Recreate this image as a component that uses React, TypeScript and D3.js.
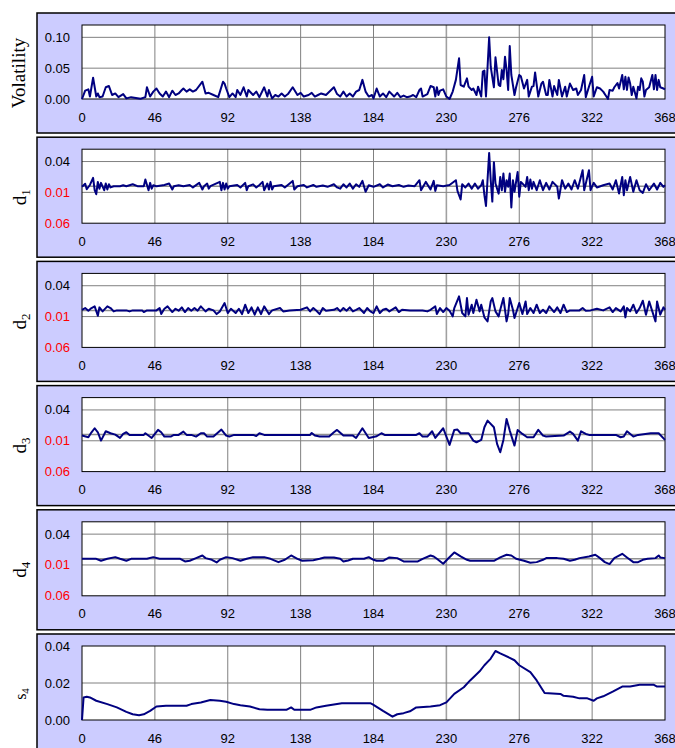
import React from "react";
import * as d3 from "d3";

// day index along the x axis (0..368), one tick every 46 days
const xTicks = [0, 46, 92, 138, 184, 230, 276, 322, 368];

const volTicks = [0, 0.05, 0.1];
const detailTicks = [-0.06, -0.01, 0.04];
const smoothTicks = [0, 0.02, 0.04];

// [day, value]
const volatility: [number, number][] = [
  [0, 0], [2, 0.0135], [4, 0.0157], [5, 0.004], [7, 0.0346], [9, 0.004], [10, 0.009], [11, 0.003],
  [13, 0.004], [15, 0.019], [17, 0.021], [19, 0.0065], [21, 0.009], [23, 0.003], [26, 0.008], [28, 0.001],
  [31, 0.003], [37, 0.0005], [40, 0.003], [41, 0.019], [43, 0.004], [45, 0.012], [47, 0.017], [49, 0.009],
  [51, 0.004], [53, 0.012], [55, 0.003], [57, 0.0135], [59, 0.0065], [61, 0.009], [63, 0.0146], [64, 0.017],
  [66, 0.012], [68, 0.0157], [70, 0.012], [72, 0.0146], [76, 0.028], [78, 0.009], [80, 0.01], [83, 0.0065],
  [86, 0.003], [89, 0.028], [90, 0.025], [91, 0.017], [93, 0.003], [95, 0.009], [97, 0.003], [98, 0.0146],
  [100, 0.0065], [102, 0.019], [104, 0.004], [105, 0.0146], [108, 0.0065], [110, 0.012], [112, 0.003],
  [115, 0.019], [117, 0.004], [118, 0.0146], [120, 0.001], [122, 0.0065], [124, 0.004], [126, 0.009],
  [128, 0.004], [130, 0.008], [133, 0.019], [136, 0.0065], [138, 0.01], [140, 0.004], [143, 0.0065],
  [145, 0.01], [147, 0.004], [149, 0.0065], [151, 0.009], [154, 0.0065], [159, 0.019], [161, 0.008],
  [163, 0.004], [165, 0.012], [167, 0.004], [169, 0.009], [171, 0.004], [173, 0.012], [175, 0.0146],
  [177, 0.031], [179, 0.012], [181, 0.004], [183, 0.0065], [184, 0.001], [186, 0.017], [188, 0.004],
  [190, 0.009], [192, 0.003], [194, 0.012], [197, 0.004], [199, 0.01], [201, 0.003], [203, 0.0055],
  [205, 0.003], [207, 0.004], [209, 0.0065], [211, 0.003], [213, 0.0146], [214, 0.017], [215, 0.004],
  [218, 0.008], [220, 0.021], [222, 0.019], [223, 0.004], [224, 0.019], [225, 0.0065], [226, 0.0135],
  [228, 0.0157], [230, 0.004], [232, 0], [234, 0.012], [236, 0.031], [238, 0.066], [239, 0.0227],
  [241, 0.02], [243, 0.0335], [244, 0.02], [246, 0.0146], [247, 0.017], [249, 0.0065], [250, 0.02],
  [252, 0.004], [253, 0.0443], [254, 0.046], [255, 0.004], [257, 0.1], [258, 0.052], [260, 0.019],
  [261, 0.0676], [263, 0.0227], [264, 0.021], [265, 0.047], [266, 0.032], [267, 0.0686], [268, 0.047],
  [269, 0.0146], [270, 0.086], [271, 0.039], [273, 0.0065], [274, 0.019], [276, 0.039], [277, 0.037],
  [279, 0.017], [281, 0.031], [282, 0.004], [284, 0.02], [285, 0.021], [286, 0.043], [288, 0.004],
  [290, 0.025], [291, 0.028], [293, 0.0065], [294, 0.0065], [295, 0.031], [297, 0.004], [298, 0.021],
  [300, 0.0065], [301, 0.031], [303, 0.004], [305, 0.02], [306, 0.004], [308, 0.025], [310, 0.0146],
  [312, 0.017], [313, 0.0065], [315, 0.0146], [317, 0.039], [318, 0.003], [320, 0.02], [322, 0.036],
  [323, 0.004], [325, 0.019], [327, 0.017], [329, 0.012], [331, 0.004], [332, 0], [333, 0.0146],
  [335, 0.0135], [336, 0.019], [338, 0.026], [339, 0.017], [341, 0.039], [342, 0.0157], [343, 0.036],
  [344, 0.0146], [345, 0.035], [346, 0.025], [347, 0.0065], [348, 0.02], [350, 0.001], [351, 0.02],
  [352, 0.0146], [353, 0.0335], [354, 0.028], [355, 0.004], [356, 0.0146], [358, 0.019], [360, 0.039],
  [361, 0.0157], [362, 0.039], [363, 0.0146], [364, 0.031], [365, 0.019], [367, 0.017], [368, 0.0157],
];

const d1: [number, number][] = [
  [0, -0.001], [2, 0.004], [3, -0.005], [5, 0.002], [7, 0.0135], [8, -0.0065], [9, -0.013], [10, 0.007],
  [11, -0.004], [12, 0.0054], [14, -0.0065], [15, 0.0043], [16, -0.0054], [17, 0.0032], [18, -0.002],
  [20, 0], [24, 0], [26, 0.0016], [28, 0], [32, 0.0032], [35, 0], [39, 0], [40, 0.011], [42, -0.0065],
  [43, 0.0054], [44, -0.004], [45, 0.0016], [47, 0], [52, 0.002], [55, 0.0043], [57, -0.0054], [58, 0],
  [61, 0.0016], [64, 0], [68, 0.002], [70, -0.002], [74, 0.0054], [76, -0.0054], [77, 0], [79, 0.0043],
  [80, -0.004], [81, 0], [87, 0.007], [88, -0.0065], [89, 0.0054], [90, -0.0054], [91, 0.0043],
  [92, -0.004], [93, 0], [98, 0.002], [100, -0.002], [103, 0.0054], [104, -0.0065], [105, 0],
  [108, 0.003], [110, -0.002], [112, 0.002], [114, 0.007], [115, -0.0065], [117, 0.0043], [118, -0.0054],
  [119, 0.007], [120, -0.0054], [121, 0], [126, 0.002], [128, -0.002], [133, 0.0086], [134, -0.0054],
  [136, 0], [140, 0.002], [142, -0.002], [146, 0.002], [148, -0.001], [152, 0.001], [155, -0.001],
  [159, 0.0032], [161, -0.002], [163, -0.004], [165, 0.0032], [167, -0.002], [169, 0.0043], [171, -0.004],
  [173, 0.0032], [175, -0.001], [177, 0.0086], [179, -0.009], [181, 0.0016], [184, -0.001], [188, 0.0032],
  [190, -0.002], [193, 0.0027], [196, 0], [200, 0.002], [203, -0.001], [206, 0.001], [210, 0],
  [213, 0.0097], [214, -0.0065], [217, 0.007], [220, -0.0054], [222, 0.0086], [223, -0.0076],
  [224, 0.0016], [228, 0], [232, 0.002], [236, 0.0097], [237, -0.0076], [239, -0.0216], [240, 0.0032],
  [242, -0.002], [244, 0.0043], [246, -0.004], [248, 0.0043], [250, -0.004], [252, 0.0016], [253, 0.0097],
  [254, -0.0146], [255, -0.032], [257, 0.054], [258, 0.0097], [259, -0.025], [260, 0.039], [261, 0.0043],
  [263, -0.012], [264, 0.015], [265, -0.0065], [266, 0.0205], [267, -0.009], [268, 0.0097], [269, -0.001],
  [270, 0.0205], [271, -0.0346], [272, 0.0097], [273, -0.009], [275, 0.023], [276, -0.017], [277, 0.007],
  [280, -0.001], [281, 0.015], [282, -0.0065], [283, 0.0108], [284, -0.004], [285, 0.007], [287, -0.0065],
  [289, 0.0097], [291, -0.0065], [293, 0.0054], [295, -0.0054], [297, 0.007], [300, -0.001], [301, -0.02],
  [303, 0.0097], [305, -0.004], [307, 0.0043], [309, -0.0054], [311, 0.0097], [313, -0.004], [316, 0.026],
  [317, -0.0065], [320, 0.026], [321, -0.0065], [323, 0.0054], [325, -0.002], [329, 0.0016], [333, 0.0043],
  [335, -0.0054], [337, 0.0097], [339, -0.012], [341, 0.015], [342, -0.0146], [343, 0.0097], [344, -0.0065],
  [346, 0.015], [348, -0.009], [350, 0.0097], [352, -0.0065], [354, -0.0108], [356, 0.0032], [358, -0.0065],
  [361, 0.0043], [363, -0.0054], [365, 0.0054], [367, -0.001], [368, 0.0016],
];

const d2: [number, number][] = [
  [0, 0.001], [2, 0.0038], [4, -0.0005], [6, 0.0038], [8, 0.0065], [10, -0.0086], [11, 0.0049],
  [13, -0.0016], [16, 0.0065], [18, 0.0038], [20, -0.0016], [22, 0], [28, 0], [30, -0.0016], [32, 0],
  [38, 0], [39, -0.0027], [41, 0], [47, 0], [49, 0.0038], [50, -0.006], [52, 0.0027], [54, 0.0065],
  [57, -0.0027], [59, 0.0027], [61, -0.0005], [63, 0.0049], [65, -0.0027], [67, 0.0038], [69, -0.0005],
  [71, 0.0038], [73, -0.0005], [75, 0.0065], [78, -0.0016], [80, 0.0027], [83, 0], [85, -0.006],
  [87, -0.0016], [90, 0.012], [92, -0.0043], [94, 0.0027], [97, -0.0043], [99, 0.0027], [101, -0.006],
  [103, 0.0092], [105, -0.0043], [107, 0.0049], [109, -0.007], [111, 0.0049], [113, -0.006], [115, 0.0065],
  [118, -0.006], [120, 0], [125, 0.0038], [127, -0.0016], [131, 0], [138, 0.001], [142, 0.0049],
  [144, -0.0016], [146, 0.0038], [148, -0.0005], [150, -0.006], [152, 0.0038], [154, -0.0005], [159, 0.001],
  [161, 0.0038], [163, -0.0016], [165, 0.0038], [167, -0.0005], [169, 0.0049], [171, -0.0016], [173, 0.001],
  [175, 0.0038], [178, -0.0043], [180, 0.0038], [182, -0.0016], [184, -0.0043], [186, 0.0065],
  [188, -0.0043], [190, 0.001], [192, 0.0027], [194, -0.0016], [198, 0.0049], [200, -0.0027], [202, 0.001],
  [207, 0], [215, 0], [218, -0.0016], [220, 0.001], [223, 0.0065], [224, -0.006], [226, 0.0038],
  [228, -0.0027], [230, 0.0038], [232, -0.0005], [234, -0.0097], [235, 0.0038], [238, 0.0227], [239, 0.0092],
  [240, -0.0043], [242, -0.0097], [243, 0.02], [244, -0.007], [246, 0.0092], [247, -0.0043], [249, 0.0173],
  [251, -0.0016], [252, 0.0092], [254, -0.0113], [256, -0.0178], [258, 0.0146], [259, 0.02], [261, -0.0016],
  [263, -0.0097], [264, 0.001], [266, 0.02], [268, -0.0178], [269, -0.006], [270, 0.02], [272, 0.001],
  [273, -0.0124], [275, 0.0038], [276, 0.012], [278, -0.006], [280, 0.0146], [281, -0.006], [283, 0.0038],
  [285, -0.0043], [287, 0.0092], [289, -0.0043], [291, 0.001], [293, -0.0043], [295, 0.0065], [298, -0.0027],
  [300, 0.0049], [302, -0.0043], [304, 0.0092], [306, -0.0027], [308, 0], [314, 0], [316, 0.0038],
  [318, -0.0005], [321, 0], [325, 0.0027], [329, 0], [333, 0.0049], [335, -0.0027], [337, 0.0038],
  [340, -0.0016], [342, 0.0065], [343, -0.0113], [344, 0.0038], [346, -0.0016], [348, 0.0092], [350, -0.0043],
  [352, 0.0038], [354, 0.0157], [356, -0.007], [358, 0.0146], [360, -0.0016], [362, -0.0178], [363, 0.0146],
  [365, -0.007], [367, 0.0049], [368, 0.001],
];

const d3s: [number, number][] = [
  [0, -0.0016], [4, -0.0043], [6, 0.0038], [8, 0.0103], [10, 0.0038], [12, -0.0097], [15, 0.0054],
  [18, 0.0022], [21, 0], [24, -0.0054], [26, 0.0011], [28, 0.0038], [30, -0.0005], [39, -0.0005],
  [40, 0.0022], [44, -0.0054], [48, 0.0076], [50, 0.0038], [52, -0.0032], [56, -0.0032], [58, -0.0005],
  [61, -0.0005], [64, 0.0049], [66, -0.0005], [69, -0.0005], [72, -0.0032], [75, 0.0022], [77, 0.0022],
  [79, -0.0032], [83, -0.0032], [88, 0.0081], [91, -0.0016], [93, -0.0032], [96, -0.0005], [108, -0.0005],
  [110, -0.0022], [112, 0.0022], [115, -0.0005], [144, -0.0005], [145, 0.0027], [147, -0.0016],
  [150, -0.0032], [156, -0.0032], [159, 0.0038], [161, 0.0076], [165, -0.0016], [171, -0.0016],
  [173, -0.0054], [177, 0.0103], [181, -0.0054], [186, -0.0027], [189, 0.0022], [191, -0.0005],
  [211, -0.0005], [213, 0.0022], [215, -0.0032], [218, -0.0032], [221, 0.0054], [223, -0.0054],
  [228, 0.0103], [232, -0.0167], [235, 0.0076], [237, 0.0081], [239, 0.0022], [244, 0.0022], [247, -0.0097],
  [249, -0.0124], [252, -0.0086], [254, 0.0119], [256, 0.0227], [260, 0.0119], [262, -0.0151],
  [264, -0.0286], [266, -0.0086], [268, 0.0254], [270, 0.0065], [273, -0.0178], [275, 0.0076],
  [278, 0.0011], [281, -0.0043], [285, -0.0043], [288, 0.0076], [291, -0.0016], [293, -0.0032],
  [304, -0.0016], [308, 0.0049], [310, 0.0011], [313, -0.0097], [315, 0.0054], [318, 0.0011],
  [320, -0.0005], [337, -0.0005], [340, -0.0043], [342, -0.0032], [344, 0.0054], [348, -0.0032],
  [351, -0.0005], [359, 0.0022], [364, 0.0022], [368, -0.0086],
];

const d4: [number, number][] = [
  [0, 0], [9, 0], [12, -0.0032], [16, 0], [21, 0.0027], [24, 0], [28, -0.0032], [31, 0], [41, 0],
  [45, 0.0027], [49, 0], [62, 0], [65, -0.0043], [68, -0.0032], [72, 0.0011], [76, 0.0054], [78, 0.0011],
  [82, -0.0016], [85, -0.0059], [87, -0.0016], [91, 0.0027], [95, 0.0011], [100, -0.0032], [104, 0],
  [108, 0.0027], [115, 0.0027], [119, 0], [124, -0.0054], [128, -0.0016], [132, 0.0054], [136, 0],
  [139, -0.0032], [146, -0.0022], [150, 0], [153, 0.0022], [159, 0.0022], [163, 0], [165, -0.0043],
  [168, -0.0027], [171, 0], [178, 0], [181, 0.0027], [184, -0.0016], [186, -0.0032], [190, -0.0032],
  [194, 0.0022], [199, 0.0011], [203, -0.0043], [212, -0.0043], [215, 0], [220, 0.0054], [222, 0.0038],
  [224, 0], [228, -0.0081], [231, 0], [235, 0.0103], [239, 0.0038], [243, -0.0016], [245, -0.0032],
  [260, -0.0032], [264, 0.0022], [268, 0.0065], [271, 0.0054], [274, 0], [279, -0.0032], [283, -0.0065],
  [287, -0.0054], [291, -0.0016], [293, 0.0011], [300, 0.0011], [304, 0], [308, -0.0032], [311, -0.0016],
  [314, 0.0011], [320, 0.0038], [324, 0.0065], [327, 0.0011], [330, -0.0054], [333, -0.0086], [336, 0.0011],
  [341, 0.0081], [344, 0.0022], [348, -0.0054], [351, -0.0054], [354, -0.0016], [357, 0], [362, 0.0011],
  [364, 0.0054], [365, 0.0022], [368, 0.0011],
];

const s4: [number, number][] = [
  [0, 0], [1, 0.0122], [3, 0.0126], [5, 0.0122], [9, 0.0104], [16, 0.0086], [22, 0.0068], [28, 0.0044],
  [32, 0.0031], [36, 0.0026], [39, 0.0031], [43, 0.0049], [47, 0.0073], [53, 0.0077], [66, 0.0077],
  [69, 0.0086], [75, 0.0095], [81, 0.0108], [87, 0.0104], [91, 0.0099], [96, 0.0086], [100, 0.008],
  [106, 0.0073], [112, 0.0058], [117, 0.0055], [129, 0.0055], [132, 0.0068], [134, 0.0055], [144, 0.0055],
  [148, 0.0068], [154, 0.0077], [159, 0.0084], [164, 0.0091], [182, 0.0091], [184, 0.0082], [190, 0.0049],
  [196, 0.0018], [199, 0.0031], [203, 0.0037], [207, 0.0047], [211, 0.0068], [220, 0.0073], [226, 0.008],
  [230, 0.0095], [235, 0.0141], [241, 0.0177], [245, 0.0214], [251, 0.0263], [254, 0.0296], [258, 0.0332],
  [261, 0.0373], [264, 0.036], [270, 0.0336], [273, 0.0323], [276, 0.0296], [283, 0.0259], [287, 0.0214],
  [292, 0.0146], [302, 0.0141], [304, 0.0131], [310, 0.0126], [314, 0.0117], [319, 0.0117], [323, 0.0104],
  [325, 0.0117], [329, 0.0128], [335, 0.0153], [341, 0.0181], [346, 0.0181], [352, 0.019], [361, 0.019],
  [363, 0.0181], [368, 0.0181],
];

const panels = [
  { name: "Volatility", sub: "", data: volatility, domain: [0, 0.12], ticks: volTicks, zero: false },
  { name: "d", sub: "1", data: d1, domain: [-0.06, 0.06], ticks: detailTicks, zero: true },
  { name: "d", sub: "2", data: d2, domain: [-0.06, 0.06], ticks: detailTicks, zero: true },
  { name: "d", sub: "3", data: d3s, domain: [-0.06, 0.06], ticks: detailTicks, zero: true },
  { name: "d", sub: "4", data: d4, domain: [-0.06, 0.06], ticks: detailTicks, zero: true },
  { name: "s", sub: "4", data: s4, domain: [0, 0.04], ticks: smoothTicks, zero: false },
];

const W = 675;
const H = 748;
const plotLeft = 82;
const plotRight = 665;
const plotH = 74;
const pitch = 124.2;
const firstTop = 25;

const sans = "'Liberation Sans', Arial, sans-serif";
const serif = "'Liberation Serif', 'Times New Roman', serif";

const x = d3.scaleLinear().domain([0, 368]).range([plotLeft, plotRight]);

const Panel = ({ p, i }) => {
  const top = firstTop + i * pitch;
  const bottom = top + plotH;
  const y = d3.scaleLinear().domain(p.domain).range([bottom, top]);
  const line = d3
    .line<[number, number]>()
    .x((d) => x(d[0]))
    .y((d) => y(d[1]));
  const boxTop = top - 12;
  const boxH = 120;
  const small = p.name === "s";
  return (
    <g>
      <rect x={37} y={boxTop} width={W} height={boxH} fill="#ccccff" stroke="#000" strokeWidth={1.5} />
      <rect x={plotLeft} y={top} width={plotRight - plotLeft} height={plotH} fill="#fff" />
      {xTicks.slice(1, -1).map((t) => (
        <line
          key={"vx" + t}
          x1={x(t)}
          x2={x(t)}
          y1={top}
          y2={bottom}
          stroke={t === 230 ? "#a0a0a0" : "#808080"}
          strokeWidth={t === 230 ? 1.6 : 1}
        />
      ))}
      {p.ticks
        .filter((t) => t > p.domain[0] && t < p.domain[1])
        .map((t) => (
          <line key={"hy" + t} x1={plotLeft} x2={plotRight} y1={y(t)} y2={y(t)} stroke="#808080" strokeWidth={1} />
        ))}
      {p.zero && <line x1={plotLeft} x2={plotRight} y1={y(0)} y2={y(0)} stroke="#909090" strokeWidth={1.5} />}
      <rect x={plotLeft} y={top} width={plotRight - plotLeft} height={plotH} fill="none" stroke="#000" strokeWidth={1} />
      <path d={line(p.data)} fill="none" stroke="#000080" strokeWidth={2} strokeLinejoin="round" />
      {p.ticks.map((t) => (
        <text
          key={"yl" + t}
          x={70}
          y={y(t) + 4.5}
          textAnchor="end"
          fontFamily={sans}
          fontSize={13}
          fill={t < 0 ? "#ff0000" : "#000"}
        >
          {Math.abs(t).toFixed(2)}
        </text>
      ))}
      {xTicks.map((t) => (
        <text key={"xl" + t} x={x(t)} y={bottom + 22.5} textAnchor="middle" fontFamily={sans} fontSize={13}>
          {t}
        </text>
      ))}
      <text
        transform={`translate(${p.sub ? (small ? 26 : 26) : 25}, ${boxTop + boxH / 2}) rotate(-90)`}
        textAnchor="middle"
        fontFamily={serif}
        fontSize={small ? 16 : 19}
      >
        <tspan>{p.name}</tspan>
        {p.sub && (
          <tspan dy={small ? 3 : 4} fontSize={small ? 11 : 13}>
            {p.sub}
          </tspan>
        )}
      </text>
    </g>
  );
};

export default function App() {
  return (
    <svg width={W} height={H} style={{ position: "absolute", left: 0, top: 0, background: "#fff" }}>
      {panels.map((p, i) => (
        <Panel key={i} p={p} i={i} />
      ))}
    </svg>
  );
}
